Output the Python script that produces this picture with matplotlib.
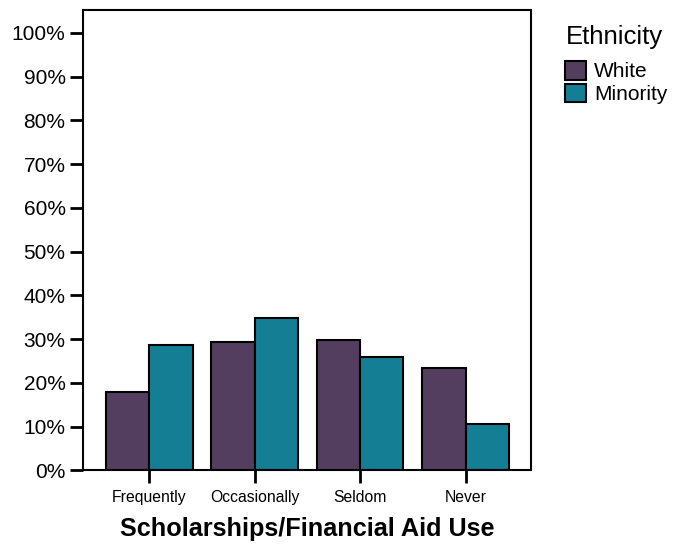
import numpy as np
import matplotlib.pyplot as plt

plt.rcParams['font.family'] = ['Liberation Sans', 'DejaVu Sans']

categories = ['Frequently', 'Occasionally', 'Seldom', 'Never']
white = [17.8, 29.3, 29.8, 23.4]
minority = [28.7, 34.9, 26.0, 10.7]
y_ticks = [0, 10, 20, 30, 40, 50, 60, 70, 80, 90, 100]

fig = plt.figure(figsize=(6.85, 5.45), dpi=100)
ax = fig.add_axes([0.121, 0.137, 0.654, 0.845])

x = np.arange(len(categories))
w = 0.41
ax.bar(x - w / 2, white, w, color='#543e60', edgecolor='black', linewidth=1.5, label='White')
ax.bar(x + w / 2, minority, w, color='#147f94', edgecolor='black', linewidth=1.5, label='Minority')

ax.set_xlim(-0.63, 3.62)
ax.set_ylim(0, 105.3)
ax.set_xticks(x)
ax.set_xticklabels(categories, fontsize=11.3)
ax.set_yticks(y_ticks)
ax.set_yticklabels([f'{t}%' for t in y_ticks], fontsize=15)
ax.tick_params(axis='y', length=9.5, width=2, pad=3)
ax.tick_params(axis='x', length=9.5, width=2, pad=5)
for s in ax.spines.values():
    s.set_linewidth(1.5)

ax.set_xlabel('Scholarships/Financial Aid Use', fontsize=18.2, fontweight='bold', labelpad=8)

# legend title drawn separately to get the wider gap above the entries
fig.text(566 / 685, 1 - 37 / 545, 'Ethnicity', fontsize=18.5, va='center', ha='left')
fig.legend(loc='upper left', bbox_to_anchor=(565 / 685, 1 - 61 / 545), frameon=False,
           fontsize=15, handlelength=1.0, handleheight=1.0, handletextpad=0.4,
           labelspacing=0.1, borderaxespad=0, borderpad=0)

fig.savefig('out.png', dpi=100)
